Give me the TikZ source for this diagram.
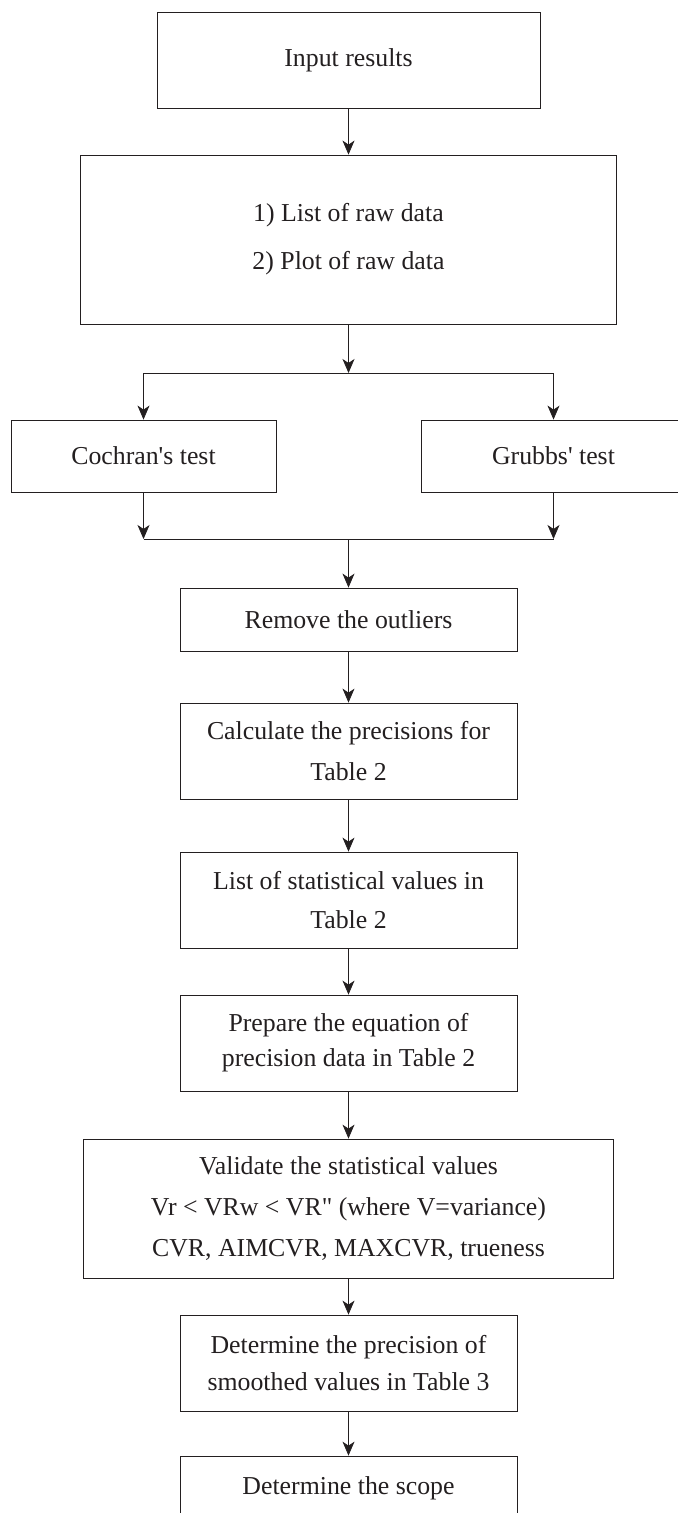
\documentclass[tikz,border=0pt]{standalone}
\usepackage{fontspec}
\setmainfont{Liberation Serif}
\usetikzlibrary{arrows.meta, positioning}
\definecolor{ink}{HTML}{231F20}
\tikzset{>={Stealth[length=7pt,width=6pt,inset=2pt]}, line width=0.8pt}
\tikzset{box/.style={draw=ink, text=ink, align=center, inner sep=0pt,
    font=\fontsize{12.9}{20.5}\selectfont}}

\begin{document}
\begin{tikzpicture}[x=0.5pt, y=-0.5pt]
    \useasboundingbox (0,0) rectangle (677,1513);

    \node[box, minimum width=191.5pt, minimum height=48pt] (input) at (348.5,60) {Input results};
    \node[box, minimum width=268pt, minimum height=84.5pt] (raw) at (348.5,239.5)
        {1) List of raw data\\[3.5pt] 2) Plot of raw data};
    \node[box, minimum width=132.5pt, minimum height=36pt] (cochran) at (143.5,456) {Cochran\textquotesingle s test};
    \node[box, minimum width=132.5pt, minimum height=36pt] (grubbs) at (553.5,456) {Grubbs\textquotesingle\ test};
    \node[box, minimum width=168.5pt, minimum height=31.5pt] (remove) at (348.5,619.5) {Remove the outliers};
    \node[box, minimum width=168.5pt, minimum height=48pt] (calc) at (348.5,751)
        {Calculate the precisions for\\ Table 2};
    \node[box, minimum width=168.5pt, minimum height=48pt] (list) at (348.5,900)
        {List of statistical values in\\[-1pt] Table 2};
    \node[box, minimum width=168.5pt, minimum height=48pt] (prep) at (348.5,1043)
        {Prepare the equation of\\[-3pt] precision data in Table 2};
    \node[box, minimum width=265pt, minimum height=69.5pt] (valid) at (348.5,1208.5)
        {Validate the statistical values\\ Vr < VRw < VR\textquotedbl\ (where V=variance)\\ CVR, AIMCVR, MAXCVR, trueness};
    \node[box, minimum width=168.5pt, minimum height=48pt] (prec) at (348.5,1363)
        {Determine the precision of\\[-1.6pt] smoothed values in Table 3};
    \node[box, minimum width=168.5pt, minimum height=32pt] (scope) at (348.5,1488) {Determine the scope};

    \coordinate (split) at (348.5,373);
    \coordinate (join) at (348.5,539);

    \draw[ink, ->] (input) -- (raw);
    \draw[ink, ->] (raw) -- (split);
    \draw[ink, ->] (split) -| (cochran);
    \draw[ink, ->] (split) -| (grubbs);
    \draw[ink, ->] (cochran) -- (cochran |- join);
    \draw[ink, ->] (grubbs) -- (grubbs |- join);
    \draw[ink] (cochran |- join) -- (grubbs |- join);
    \draw[ink, ->] (join) -- (remove);
    \draw[ink, ->] (remove) -- (calc);
    \draw[ink, ->] (calc) -- (list);
    \draw[ink, ->] (list) -- (prep);
    \draw[ink, ->] (prep) -- (valid);
    \draw[ink, ->] (valid) -- (prec);
    \draw[ink, ->] (prec) -- (scope);
\end{tikzpicture}
\end{document}
